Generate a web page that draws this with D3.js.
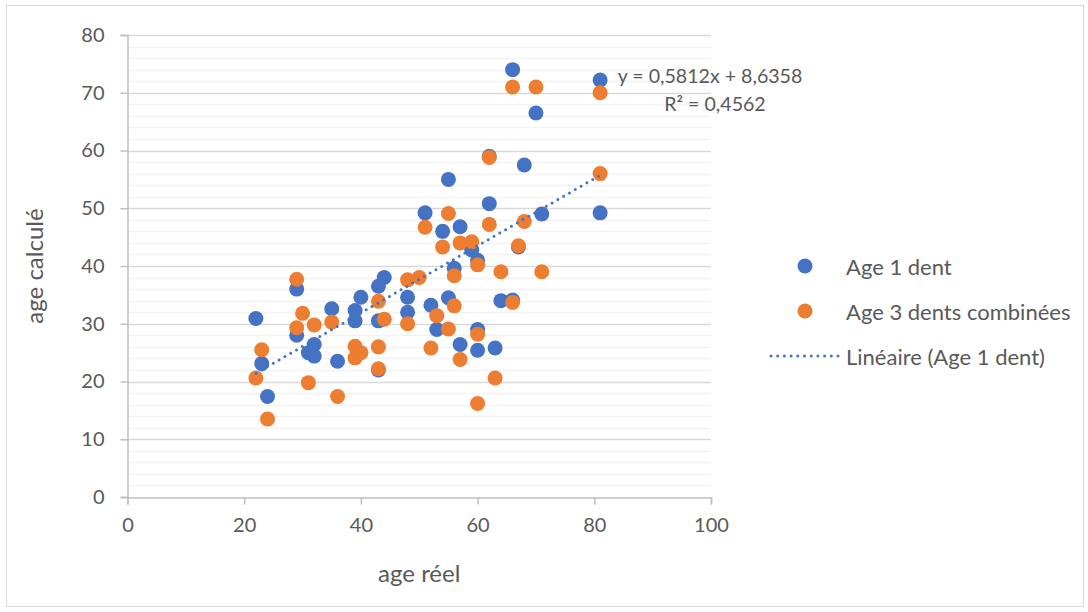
<!DOCTYPE html>
<html>

<head>
    <meta charset="utf-8">
    <title>age réel / age calculé</title>
    <script src="https://d3js.org/d3.v7.min.js"></script>
    <style>
        body { margin: 0; background: #fff; }
        text { font-family: Lato, "Open Sans", sans-serif; fill: #595959; }
    </style>
</head>

<body>
    <div id="chart"></div>
    <script>
        // DATA

        var age1Reel = [22, 23, 24, 29, 29, 31, 32, 32, 35, 36, 39, 39, 40, 43, 44, 43, 43, 48, 48, 51, 52, 53,
            54, 55, 55, 56, 57, 57, 59, 60, 60, 60, 62, 62, 63, 64, 66, 66, 67, 68, 70, 71, 81, 81]
        var age1Calc = [30.9, 23.1, 17.4, 36, 28, 25, 26.4, 24.4, 32.6, 23.5, 32.3, 30.5, 34.6, 36.5, 38, 30.5, 22, 34.6, 32, 49.2, 33.2, 29,
            46, 55, 34.5, 39.6, 46.8, 26.4, 42.8, 41, 29, 25.4, 59, 50.8, 25.8, 34, 74, 34.1, 43.3, 57.5, 66.5, 49, 72.2, 49.2]

        var age3Reel = [22, 23, 24, 29, 29, 30, 31, 32, 35, 36, 39, 39, 40, 43, 43, 43, 44, 48, 48, 50, 51, 52, 53,
            54, 55, 55, 56, 56, 57, 57, 59, 60, 60, 60, 62, 62, 63, 64, 66, 66, 67, 68, 70, 71, 81, 81]
        var age3Calc = [20.6, 25.5, 13.5, 37.7, 29.3, 31.8, 19.8, 29.8, 30.3, 17.4, 26.1, 24.1, 25, 33.9, 26, 22.2, 30.8, 37.6, 30, 38, 46.7, 25.8, 31.4,
            43.3, 49.1, 29.1, 38.3, 33.1, 44, 23.8, 44.2, 40.2, 28.2, 16.2, 58.8, 47.2, 20.6, 39, 71, 33.7, 43.5, 47.7, 71, 39, 70, 56]

        // trendline of "Age 1 dent", as printed on the chart
        var trendSlope = 0.5812
        var trendIntercept = 8.6358
        var trendLabel = ['y = 0,5812x + 8,6358', 'R² = 0,4562']

        var xTicks = [0, 20, 40, 60, 80, 100]
        var yTicks = [0, 10, 20, 30, 40, 50, 60, 70, 80]
        var yMinorTicks = d3.range(2, 80, 2).filter(function (v) { return v % 10 != 0 })
        var legendLabels = ['Age 1 dent', 'Age 3 dents combinées', 'Linéaire (Age 1 dent)']

        // GENERAL SETUP

        var width = 1088
        var height = 612
        var blue = '#4472c4'
        var orange = '#ed7d31'

        var svg = d3.select('#chart').append('svg')
            .attr('width', width)
            .attr('height', height)

        // outer chart border
        svg.append('rect')
            .attr('x', 6.5).attr('y', 5.5)
            .attr('width', 1077).attr('height', 601)
            .attr('fill', '#fff')
            .attr('stroke', '#d9d9d9')

        var x = d3.scaleLinear().domain([0, 100]).range([127.5, 711])
        var y = d3.scaleLinear().domain([0, 80]).range([497, 35])

        // GRIDLINES

        svg.append('g').selectAll('line').data(yMinorTicks).join('line')
            .attr('x1', x(0)).attr('x2', x(100))
            .attr('y1', function (d) { return Math.round(y(d)) + 0.5 })
            .attr('y2', function (d) { return Math.round(y(d)) + 0.5 })
            .attr('stroke', '#f2f2f2')
            .attr('stroke-width', 1.5)

        svg.append('g').selectAll('line').data(yTicks.slice(1)).join('line')
            .attr('x1', x(0)).attr('x2', x(100))
            .attr('y1', function (d) { return Math.round(y(d)) + 0.5 })
            .attr('y2', function (d) { return Math.round(y(d)) + 0.5 })
            .attr('stroke', '#d9d9d9')
            .attr('stroke-width', 1.5)

        // AXES

        var xAxis = svg.append('g')
            .attr('transform', 'translate(0,' + (Math.round(y(0)) + 0.5) + ')')
            .call(d3.axisBottom(x).tickValues(xTicks).tickSize(7).tickPadding(13))
        var yAxis = svg.append('g')
            .attr('transform', 'translate(' + x(0) + ',0)')
            .call(d3.axisLeft(y).tickValues(yTicks).tickSize(7).tickPadding(16))

        xAxis.selectAll('.domain, line').attr('stroke', '#bfbfbf').attr('stroke-width', 1.5)
        yAxis.selectAll('.domain, line').attr('stroke', '#bfbfbf').attr('stroke-width', 1.5)
        xAxis.selectAll('text').attr('fill', '#595959').style('font-size', '20px').style('font-family', 'Lato')
        yAxis.selectAll('text').attr('fill', '#595959').style('font-size', '20px').style('font-family', 'Lato')

        svg.append('text')
            .attr('x', (x(0) + x(100)) / 2).attr('y', 572)
            .attr('text-anchor', 'middle').attr('dominant-baseline', 'central')
            .style('font-size', '24px')
            .text('age réel')

        svg.append('text')
            .attr('transform', 'translate(33,' + ((y(0) + y(80)) / 2) + ') rotate(-90)')
            .attr('text-anchor', 'middle').attr('dominant-baseline', 'central')
            .style('font-size', '24px')
            .text('age calculé')

        // POINTS

        var r = 7.5
        svg.append('g').selectAll('circle').data(age1Reel).join('circle')
            .attr('cx', function (d) { return x(d) })
            .attr('cy', function (d, i) { return y(age1Calc[i]) })
            .attr('r', r)
            .attr('fill', blue)

        svg.append('g').selectAll('circle').data(age3Reel).join('circle')
            .attr('cx', function (d) { return x(d) })
            .attr('cy', function (d, i) { return y(age3Calc[i]) })
            .attr('r', r)
            .attr('fill', orange)

        // TRENDLINE

        var trendX = d3.extent(age1Reel)
        var line = d3.line()
            .x(function (d) { return x(d) })
            .y(function (d) { return y(trendSlope * d + trendIntercept) })
        svg.append('path')
            .attr('d', line(trendX))
            .attr('fill', 'none')
            .attr('stroke', blue)
            .attr('stroke-width', 3)
            .attr('stroke-linecap', 'round')
            .attr('stroke-dasharray', '0 6.7')

        svg.append('text')
            .attr('x', 710).attr('y', 75)
            .attr('text-anchor', 'middle').attr('dominant-baseline', 'central')
            .style('font-size', '19.6px')
            .text(trendLabel[0])
        svg.append('text')
            .attr('x', 715).attr('y', 103)
            .attr('text-anchor', 'middle').attr('dominant-baseline', 'central')
            .style('font-size', '19.6px')
            .text(trendLabel[1])

        // LEGEND

        var legend = svg.append('g')
        var legendY = [266, 311, 356]
        legend.append('circle').attr('cx', 805).attr('cy', legendY[0]).attr('r', r).attr('fill', blue)
        legend.append('circle').attr('cx', 805).attr('cy', legendY[1]).attr('r', r).attr('fill', orange)
        legend.append('line')
            .attr('x1', 771).attr('x2', 838)
            .attr('y1', legendY[2]).attr('y2', legendY[2])
            .attr('stroke', blue)
            .attr('stroke-width', 3)
            .attr('stroke-linecap', 'round')
            .attr('stroke-dasharray', '0 6.7')
        legend.selectAll('text').data(legendLabels).join('text')
            .attr('x', 846)
            .attr('y', function (d, i) { return legendY[i] })
            .attr('dominant-baseline', 'central')
            .style('font-size', '22px')
            .text(function (d) { return d })
    </script>
</body>

</html>
